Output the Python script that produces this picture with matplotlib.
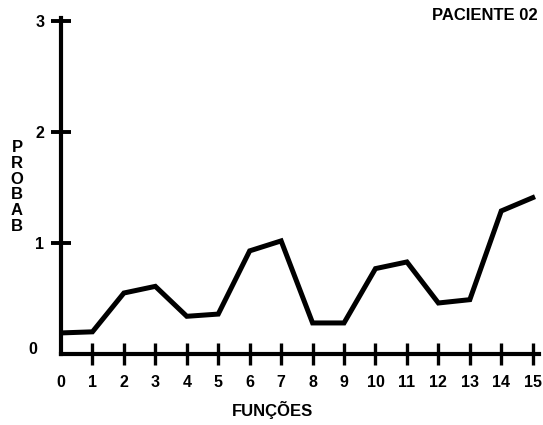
import numpy as np
import matplotlib.pyplot as plt

plt.rcParams['font.family'] = ['Liberation Sans', 'DejaVu Sans']

# dados
funcoes = list(range(16))
probab = [0.19, 0.20, 0.55, 0.61, 0.34, 0.36, 0.93, 1.02,
          0.28, 0.28, 0.77, 0.83, 0.46, 0.49, 1.29, 1.41]
yticks = [1, 2, 3]

fs = 12

fig = plt.figure(figsize=(5.43, 4.25), dpi=100)
ax = fig.add_axes([61 / 543, 71 / 425, 478 / 543, 336 / 425])

ax.plot(funcoes, probab, color='black', lw=3.6, solid_joinstyle='miter')

ax.set_xlim(0, 15.2)
ax.set_ylim(0, 3.03)

for s in ['top', 'right']:
    ax.spines[s].set_visible(False)
for s in ['left', 'bottom']:
    ax.spines[s].set_linewidth(3)

ax.set_xticks(funcoes)
ax.set_yticks(yticks)
ax.tick_params(axis='x', direction='inout', length=16, width=2.4, pad=7,
               labelsize=11.5)
ax.tick_params(axis='y', direction='inout', length=14, width=2.8, pad=5,
               labelsize=11.5)
for lab in ax.get_xticklabels() + ax.get_yticklabels():
    lab.set_fontweight('bold')
ax.xaxis.get_major_ticks()[0].tick1line.set_visible(False)

ax.text(-28 / 31.5, 0.04, '0', ha='center', va='center', fontsize=11.5,
        fontweight='bold')

fig.text(272 / 543, 1 - 410 / 425, 'FUNÇÕES', ha='center', va='center',
         fontsize=fs, fontweight='bold')
fig.text(17 / 543, 1 - 187 / 425, '\n'.join('PROBAB'), ha='center',
         va='center', fontsize=fs, fontweight='bold', linespacing=1.08)
fig.text(538 / 543, 1 - 16 / 425, 'PACIENTE 02', ha='right', va='center',
         fontsize=fs, fontweight='bold')

fig.savefig('out.png', dpi=100)
